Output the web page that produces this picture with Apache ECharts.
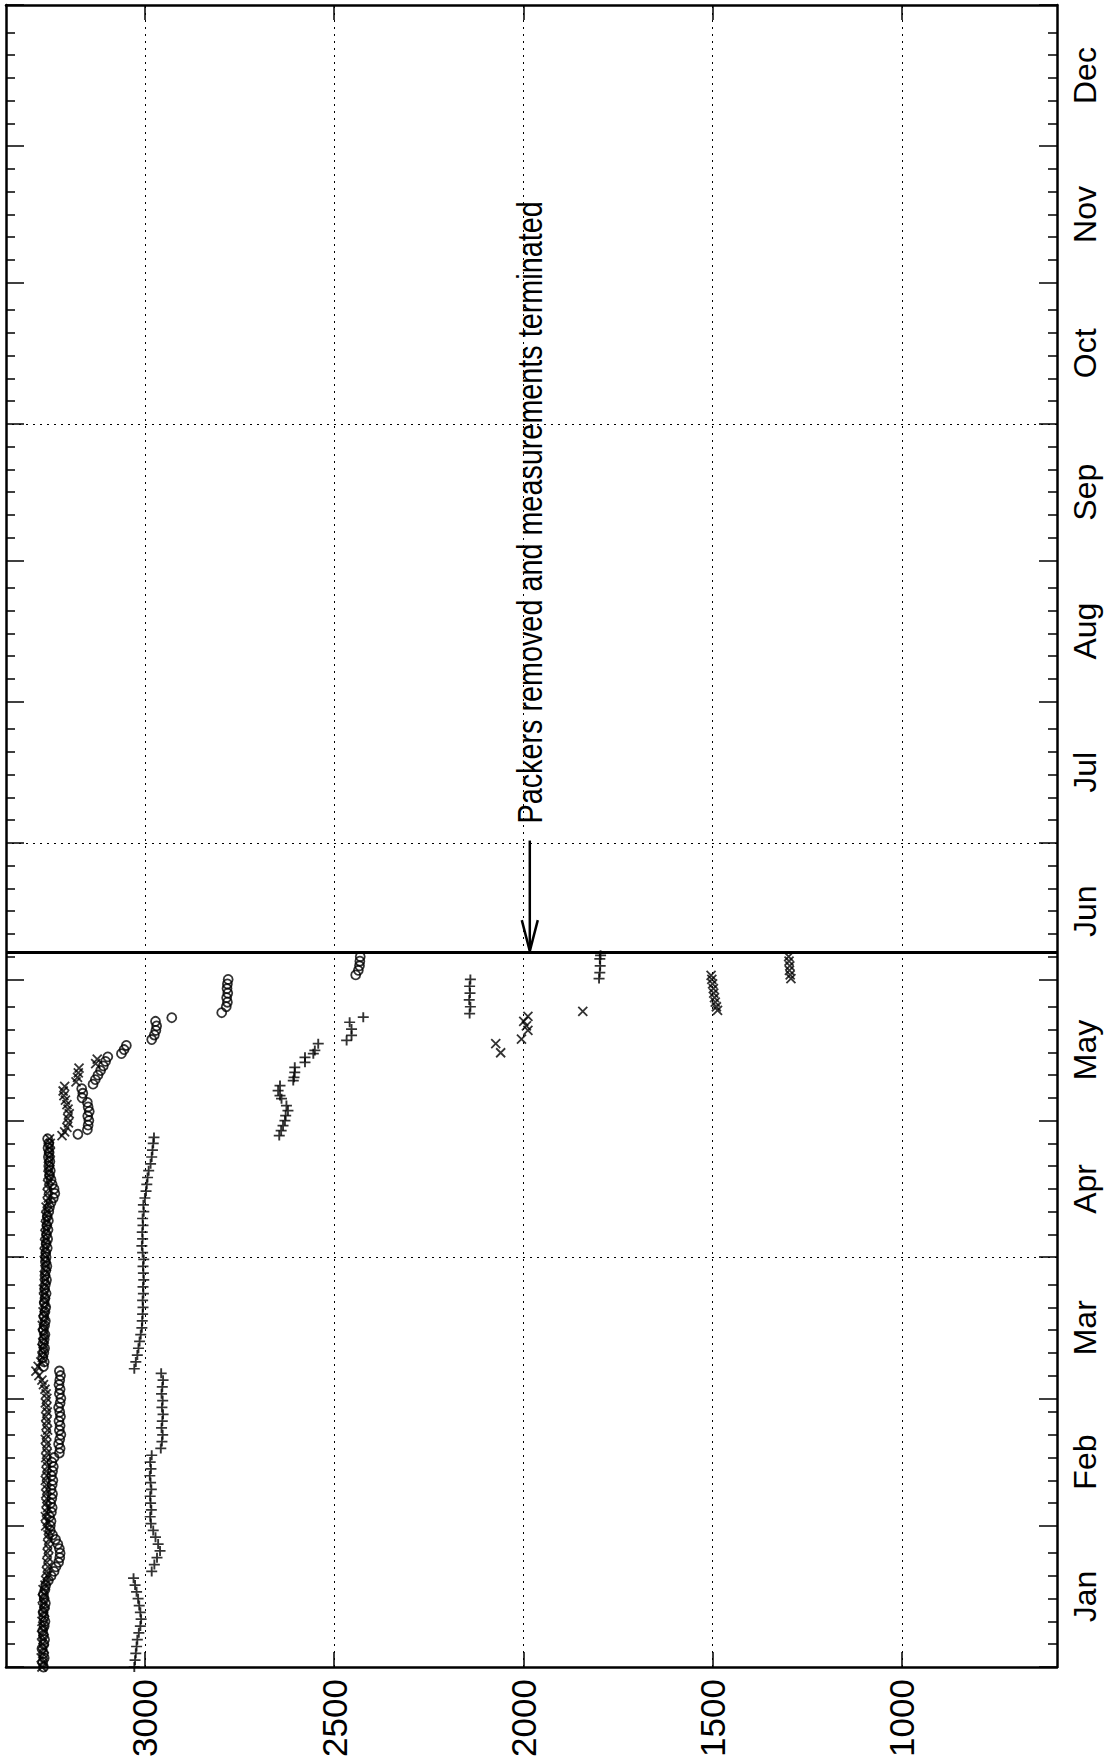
<!DOCTYPE html>
<html><head><meta charset="utf-8">
<script src="https://cdn.jsdelivr.net/npm/echarts@6/dist/echarts.min.js"></script>
<style>html,body{margin:0;padding:0;background:#fff}#c{width:1109px;height:1759px}</style>
</head><body><div id="c"></div>
<script>
// ---------- axis / annotation content ----------
const monthNames = ['Jan','Feb','Mar','Apr','May','Jun','Jul','Aug','Sep','Oct','Nov','Dec'];
const monthStartDays = [0,31,59,90,120,151,181,212,243,273,304,334,365];
const valueTicks = [3000,2500,2000,1500,1000];
const dateGridDays = [90,181,273];
const packerRemovalDay = 157;
const annotationText = 'Packers removed and measurements terminated';
const annotationValue = 1983;
const annotationStartDay = 181.5;

// ---------- series 'o' ----------
const circleDailyStartDay = 0;
const circleDaily = [
 3268,3270,3266,3268,3272,3267,3265,3268,3270,3266,3264,3267,3269,3265,3263,3266,3268,3264,3262,
 3255,3248,3240,3235,3228,3225,3224,3226,3230,3236,3244,3250,
 3250,3248,3252,3247,3245,3249,3246,3244,3248,3245,3243,3247,3244,3242,3246,3240,
 3226,3224,3228,3225,3222,3226,3224,3227,3223,3225,3228,3224,3222,3226,3224,3227,3225,3223,3226,
 3268,3266,3270,3267,3265,3269,3266,3264,3268,3265,3263,3267,3264,3262,3266,3264,3261,3265,3263,3260,3264,3262,3259,3263,3261,
 3262,3258,3261,3257,3260,3256,3259,3255,3258,3254,3252,3248,
 3242,3238,3240,3245,3248,3252,3250,3254,3251,3255,3253,3256,3254,3257
];
const circleLate = [
 [117,3177],[118,3152],[119,3150],[120,3148],[121,3151],[122,3147],[123,3150],[124,3152],[125,3166],[126,3164],[127,3167],
 [128,3137],[129,3131],[130,3124],[131,3117],[132,3110],[133,3104],[134,3098],[134.7,3062],[135.6,3055],[136.5,3049],
 [137.8,2982],[138.8,2975],[139.8,2971],[140.8,2969],[141.8,2972],[142.6,2929],
 [143.7,2797],[145,2785],[146,2782],[147,2784],[148,2781],[149,2783],[150,2782],[151,2780],
 [152,2443],[153,2436],[154,2433],[155,2432],[156,2431]
];

// ---------- series 'x' ----------
const crossDailyStartDay = 0;
const crossDaily = [
 3272,3268,3274,3270,3266,3271,3269,3273,3267,3270,3272,3268,3265,3270,3267,3271,3266,3269,3264,
 3262,3258,3260,3256,3259,3255,3258,3254,3257,3253,3256,3255,
 3262,3258,3263,3260,3257,3261,3259,3262,3258,3260,3263,3259,3261,3257,3260,3262,3258,3261,3259,3263,3260,3257,3261,3259,3262,3258,3260,3263,3259,3261,3264,3268,3272,
 3280,3288,3282,
 3275,3271,3268,3272,3269,3266,3270,3267,3271,3268,3265,3269,3266,3263,3267,3264,3268,3265,3262,3266,3263,3260,3264,3262,
 3266,3262,3265,3261,3264,3260,3263,3259,3262,3258,3261,3257,3255,3258,3254,3257,3253,3256,3252,3255,3251,3254,3250,3253,3250,3252
];
const crossLate = [
 [116.7,3219],[117.5,3212],[118.5,3206],[119.5,3202],[120.5,3204],[121.5,3200],[122.5,3203],[123.5,3206],[124.5,3210],
 [125.5,3214],[126.5,3216],[127.5,3212],[128.5,3182],[129.5,3178],[130.5,3176],[131.5,3174],[132.5,3130],[133.5,3126],
 [134.9,2060],[136.9,2073],[137.9,2005],[139.8,1988],[140.8,1992],[141.8,1999],[142.9,1988],
 [144,1843],
 [144.2,1487],[145,1490],[146,1493],[147,1495],[148,1497],[149,1498],[150,1500],[151,1502],[151.9,1504],
 [151.2,1293],[152,1295],[153,1297],[154,1296],[155,1298],[156,1299]
];

// ---------- series '+' ----------
const plusPoints = [
 [0,3028],[1.5,3026],[3,3024],[4.5,3022],[6,3020],[7.5,3016],[9,3012],[10.5,3010],[12,3012],[13.5,3015],[15,3018],[16.5,3022],[18,3026],[19.5,3030],
 [21,2982],[22.5,2975],[24,2968],[25.5,2960],[27,2965],[28.5,2972],[30,2978],[31.5,2984],[33,2986],[34.5,2983],[36,2985],
 [37.5,2986],[39,2983],[40.5,2985],[42,2987],[43.5,2984],[45,2986],[46.5,2982],
 [48,2958],[49.5,2955],[51,2953],[52.5,2956],[54,2954],[55.5,2952],[57,2955],[58.5,2953],[60,2956],[61.5,2954],[63,2952],[64.5,2957],
 [65.5,3028],[67,3024],[68.5,3020],[70,3017],[71.5,3014],[73,3011],[74.5,3008],[76,3007],[77.5,3006],[79,3005],[80.5,3006],[82,3004],[83.5,3005],[85,3003],[86.5,3004],[88,3005],[89.5,3003],[91,3006],
 [92.5,3008],[94,3006],[95.5,3007],[97,3005],[98.5,3006],[100,3003],[101.5,3004],[103,3000],[104.5,2997],[106,2995],[107.5,2993],[109,2990],[110.5,2985],[112,2982],[113.5,2980],[115,2978],[116.3,2976],
 [116.7,2645],[117.8,2640],[118.9,2635],[120,2630],[121.1,2628],[122.2,2622],[123.3,2626],[124.8,2639],[125.5,2643],[126.6,2648],[127.7,2643],
 [128.8,2608],[129.5,2606],[130.6,2604],[131.7,2604],[132.8,2577],[133.9,2577],[134.7,2555],[135.4,2551],[136.9,2542],
 [137.6,2467],[138.7,2454],[140.1,2454],[141.6,2459],[142.7,2423],
 [143.5,2142],[145,2140],[146.5,2143],[148,2141],[149.5,2142],[151,2140],
 [151.2,1800],[152.5,1798],[154,1797],[155.5,1798],[156.3,1796]
];

// ---------- build ----------
const FONT = "'Liberation Sans',Arial,Helvetica,sans-serif";
const minorOffsets = [5,10,15,20,25];
const minorTickDays = [];
monthStartDays.slice(0,12).forEach(s => minorOffsets.forEach(o => minorTickDays.push(s+o)));
const monthMidDays = monthNames.map((m,i) => (monthStartDays[i]+monthStartDays[i+1])/2);
const monthLabel = v => { let b=0; monthMidDays.forEach((d,i)=>{ if (Math.abs(d-v) < Math.abs(monthMidDays[b]-v)) b=i; }); return monthNames[b]; };

const circleData = circleDaily.map((v,i)=>[v, circleDailyStartDay+i]).concat(circleLate.map(p=>[p[1],p[0]]));
const crossData = crossDaily.map((v,i)=>[v, crossDailyStartDay+i]).concat(crossLate.map(p=>[p[1],p[0]]));
const plusData = plusPoints.map(p=>[p[1],p[0]]);

const X_MIN = 590, X_MAX = 3367;
function xAx(pos, labels){
  return {type:'value', position:pos, inverse:true, min:X_MIN, max:X_MAX,
    axisLine:{show:true, onZero:false, lineStyle:{color:'#000', width:2.5}},
    axisTick:{show:true, inside:true, length:15, customValues:valueTicks, lineStyle:{color:'#000', width:1.5}},
    axisLabel:{show:labels, customValues:valueTicks, formatter:v=>String(v), rotate:90, margin:12, fontSize:35, fontFamily:FONT, color:'#000'},
    splitLine:{show:false}};
}
function yAx(pos, ticks, len, line, labels){
  return {type:'value', position:pos, min:0, max:365,
    axisLine:{show:line, onZero:false, lineStyle:{color:'#000', width:2.5}},
    axisTick:{show:true, inside:true, length:len, customValues:ticks, lineStyle:{color:'#000', width:1.5}},
    axisLabel:{show:labels, customValues:monthMidDays, formatter:monthLabel, rotate:90, margin:12, fontSize:32, fontFamily:FONT, color:'#000'},
    splitLine:{show:false}};
}
const strokeStyle = {color:'transparent', borderColor:'#000', borderWidth:1.8};

const option = {
  animation:false,
  backgroundColor:'#fff',
  grid:{left:6, right:52, top:5, bottom:92, outerBoundsMode:'none', containLabel:false},
  xAxis:[xAx('bottom', true), xAx('top', false)],
  yAxis:[
    yAx('right', monthStartDays, 18, true, false),
    yAx('right', minorTickDays, 9, false, true),
    yAx('left', monthStartDays, 18, true, false),
    yAx('left', minorTickDays, 9, false, false)
  ],
  series:[
    {type:'scatter', name:'o', xAxisIndex:0, yAxisIndex:0, data:circleData, symbol:'circle', symbolSize:9, itemStyle:strokeStyle, silent:true,
     markLine:{silent:true, symbol:['none','none'], label:{show:false}, animation:false,
       lineStyle:{color:'#000', width:1, type:[2,5]},
       data: valueTicks.map(v=>({xAxis:v})).concat(dateGridDays.map(d=>({yAxis:d})))
         .concat([{yAxis:packerRemovalDay, lineStyle:{type:'solid', width:3, color:'#000'}}])}},
    {type:'scatter', name:'x', xAxisIndex:0, yAxisIndex:0, data:crossData, symbol:'path://M0,0L10,10M10,0L0,10', symbolSize:9, itemStyle:strokeStyle, silent:true},
    {type:'scatter', name:'+', xAxisIndex:0, yAxisIndex:0, data:plusData, symbol:'path://M5,0L5,10M0,5L10,5', symbolSize:[11,10], itemStyle:strokeStyle, silent:true},
    {type:'custom', xAxisIndex:0, yAxisIndex:0, silent:true,
     data:[[annotationValue, annotationStartDay, packerRemovalDay]],
     renderItem:(params, api)=>{
       const top = api.coord([api.value(0), api.value(1)]);
       const tip = api.coord([api.value(0), api.value(2)]);
       return {type:'group', children:[
         {type:'line', shape:{x1:top[0], y1:top[1], x2:tip[0], y2:tip[1]-2}, style:{stroke:'#000', lineWidth:2.5}},
         {type:'polyline', shape:{points:[[tip[0]-8, tip[1]-32],[tip[0], tip[1]-1],[tip[0]+8, tip[1]-32]]}, style:{stroke:'#000', lineWidth:2.5, fill:'none'}},
         {type:'text', x:top[0], y:top[1]-17, rotation:Math.PI/2, scaleX:0.8,
          style:{text:annotationText, fontSize:36, fontFamily:FONT, fill:'#000', align:'left', verticalAlign:'middle'}}
       ]};
     }}
  ]
};
const chart = echarts.init(document.getElementById('c'), null, {renderer:'svg'});
chart.setOption(option);
</script>
</body></html>
